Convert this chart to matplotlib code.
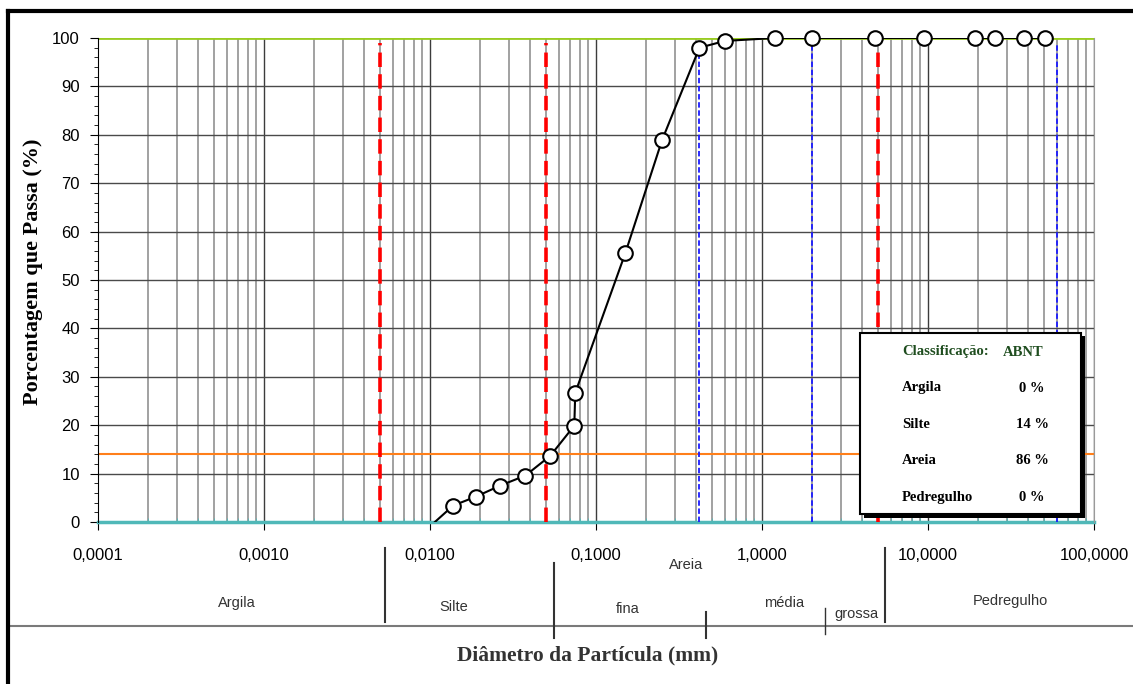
import numpy as np
import matplotlib.pyplot as plt
from matplotlib.lines import Line2D
from matplotlib.patches import Rectangle
from matplotlib.ticker import FixedLocator, LogLocator, MultipleLocator

# curva granulometrica
diam = [0.0138, 0.0188, 0.0264, 0.0376, 0.0531, 0.074, 0.075, 0.15, 0.25, 0.42,
        0.6, 1.2, 2.0, 4.8, 9.5, 19.1, 25.4, 38.1, 50.8]
passa = [3.4, 5.2, 7.5, 9.6, 13.7, 19.9, 26.7, 55.5, 78.9, 98.0,
         99.4, 100, 100, 100, 100, 100, 100, 100, 100]
inicio_x, inicio_y = 0.0107, 0.0  # onde a linha corta o eixo

limites_vermelhos = [0.005, 0.05, 5.0]
limites_azuis = [0.42, 2.0, 60.0]
linha_silte = 14

xticks = [0.0001, 0.001, 0.01, 0.1, 1, 10, 100]
xlabels = ["0,0001", "0,0010", "0,0100", "0,1000", "1,0000", "10,0000", "100,0000"]

classes = ["Argila", "Silte", "Areia", "Pedregulho"]
percentuais = ["0 %", "14 %", "86 %", "0 %"]

W, H = 1133, 684
fig = plt.figure(figsize=(W/100, H/100), dpi=100)

def fx(x):
    return x/W
def fy(y):
    return 1 - y/H

ax = fig.add_axes([fx(98), fy(522), fx(1094)-fx(98), fy(38)-fy(522)])
ax.set_xscale('log')
ax.set_xlim(1e-4, 1e2)
ax.set_ylim(0, 100)

# grade
for d in range(-4, 2):
    for m in range(2, 10):
        ax.axvline(m*10.0**d, color='#9a9a9a', lw=1.3, zorder=1)
for d in range(-3, 3):
    ax.axvline(10.0**d, color='#3c3c3c', lw=1.0, zorder=1)
for y in range(10, 100, 10):
    ax.axhline(y, color='#4a4a4a', lw=1.0, zorder=1)

ax.axhline(100, color='#99cc22', lw=2, zorder=2)
ax.axhline(linha_silte, color='#ff7f1a', lw=1.5, zorder=2)
ax.axhline(0, color='#50b8b8', lw=2.5, zorder=2, clip_on=False)

for v in limites_vermelhos:
    ax.plot([v, v], [0, 99], color='red', lw=2.6, dashes=(4, 2), zorder=3)
for v in limites_azuis:
    ax.plot([v, v], [0, 99], color='#1a1aff', lw=1.3, dashes=(3, 1.5), zorder=3)

ax.plot([inicio_x] + diam, [inicio_y] + passa, color='black', lw=1.5, zorder=4)
ax.plot(diam, passa, 'o', ms=10.5, mfc='white', mec='black', mew=1.5,
        zorder=5, clip_on=False)

for s in ['top', 'bottom']:
    ax.spines[s].set_visible(False)
ax.spines['right'].set_color('#9a9a9a')
ax.spines['left'].set_color('black')

ax.xaxis.set_major_locator(FixedLocator(xticks))
ax.set_xticklabels(xlabels)
ax.xaxis.set_minor_locator(LogLocator(base=10, subs=np.arange(2, 10)))
ax.xaxis.set_minor_formatter(plt.NullFormatter())
ax.tick_params(axis='x', which='major', direction='out', length=6, pad=13,
               labelsize=12, color='black')
ax.tick_params(axis='x', which='minor', direction='in', length=3, color='#50b8b8')
ax.yaxis.set_major_locator(MultipleLocator(10))
ax.yaxis.set_minor_locator(MultipleLocator(2))
ax.tick_params(axis='y', which='major', direction='out', length=6, pad=7, labelsize=12)
ax.tick_params(axis='y', which='minor', direction='out', length=3)
for t in ax.get_xticklabels() + ax.get_yticklabels():
    t.set_fontfamily('Liberation Sans')

fig.text(fx(33), fy(272), "Porcentagem que Passa (%)", rotation=90, ha='center',
         va='center', family='Liberation Serif', weight='bold', fontsize=16)

# quadro de classificacao
fig.patches.append(Rectangle((fx(864), fy(518)), fx(221), fy(333)-fy(515),
                             transform=fig.transFigure, facecolor='black',
                             edgecolor='none', zorder=10))
fig.patches.append(Rectangle((fx(860), fy(514)), fx(221), fy(333)-fy(514),
                             transform=fig.transFigure, facecolor='white',
                             edgecolor='black', lw=1.5, zorder=11))
fig.text(fx(902), fy(352), "Classificação:", color='#1f4d1f', family='Liberation Serif',
         weight='bold', fontsize=10.5, va='center', zorder=12)
fig.text(fx(1003), fy(352), "ABNT", color='#1f4d1f', family='Liberation Serif',
         weight='bold', fontsize=10.5, va='center', zorder=12)
for i, (c, p) in enumerate(zip(classes, percentuais)):
    yy = 388 + i*36.5
    fig.text(fx(902), fy(yy), c, family='Liberation Serif', weight='bold',
             fontsize=10.5, va='center', zorder=12)
    fig.text(fx(1032), fy(yy), p, family='Liberation Serif', weight='bold',
             fontsize=10.5, va='center', ha='center', zorder=12)

# escala de classificacao abaixo do grafico
def linha(x0, y0, x1, y1, **kw):
    fig.lines.append(Line2D([fx(x0), fx(x1)], [fy(y0), fy(y1)],
                            transform=fig.transFigure, **kw))

linha(8, 626, W, 626, color='#7a7a7a', lw=1.5)
linha(385, 548, 385, 622, color='#333333', lw=1.5)
linha(554, 563, 554, 638, color='#333333', lw=1.5)
linha(706, 612, 706, 638, color='#333333', lw=1.5)
linha(825, 608, 825, 634, color='#333333', lw=1.0)
linha(885, 548, 885, 622, color='#333333', lw=1.5)

rotulos = [("Argila", 237, 603), ("Silte", 454, 607), ("Areia", 686, 565),
           ("fina", 628, 609), ("média", 784, 603), ("grossa", 856, 614),
           ("Pedregulho", 1010, 601)]
for txt, x, y in rotulos:
    fig.text(fx(x), fy(y), txt, ha='center', va='center', family='Liberation Sans',
             fontsize=10.5, color='#333333')

fig.text(fx(588), fy(655), "Diâmetro da Partícula (mm)", ha='center', va='center',
         family='Liberation Serif', weight='bold', fontsize=15.5, color='#333333')

# moldura
linha(8, 11, W, 11, color='black', lw=3)
linha(8, 11, 8, H, color='black', lw=3)

fig.savefig('out.png', dpi=100)
